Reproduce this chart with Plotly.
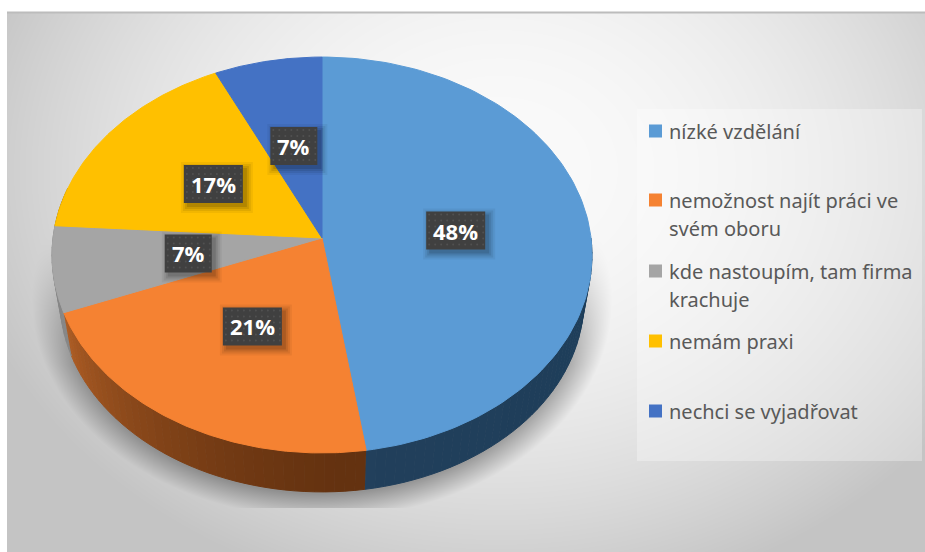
import numpy as np
import plotly.graph_objects as go

# values (shares in %), clockwise from 12 o'clock
categories = ["nízké vzdělání", "nemožnost najít práci ve svém oboru",
              "kde nastoupím, tam firma krachuje", "nemám praxi", "nechci se vyjadřovat"]
values = [47.6, 21.4, 7.0, 17.0, 7.0]
legend_lines = [["nízké vzdělání"], ["nemožnost najít práci ve", "svém oboru"],
                ["kde nastoupím, tam firma", "krachuje"], ["nemám praxi"], ["nechci se vyjadřovat"]]

top_colors = ["#5B9BD5", "#F58232", "#A5A5A5", "#FFC000", "#4472C4"]
# side colour at the start and end of each slice
side_colors = [((30, 62, 90), (34, 64, 92)), ((100, 50, 16), (172, 92, 36)),
               ((135, 135, 135), (135, 135, 135)), ((150, 110, 0), (150, 110, 0)), ((40, 70, 120), (40, 70, 120))]

W, H = 925, 552
CX, CY = 322, 238
A, B, K = 269, 196.5, 0.0859  # perspective of the tilted pie


def project(theta, r=1.0):
    u, v = r * np.sin(theta), r * np.cos(theta)
    d = 1 + K * v
    return CX + A * u / d, CY - B * v / d


def project_bottom(theta):
    x, y = project(theta)
    return CX + 0.97 * (x - CX), CY + 0.97 * (y - CY) + 45.4


# background: radial gradient, pie shadow and legend panel
px = np.arange(7, W) + 0.5
py = np.arange(12, H) + 0.5
gx, gy = np.meshgrid(px, py)
t = np.sqrt(((gx - 500) / 500) ** 2 + ((gy - 170) / 400) ** 2)
bg = 250 - 45 * np.clip(t, 0, 1.1) ** 2
dist = (np.sqrt(((gx - 322) / 258) ** 2 + ((gy - 300) / 194) ** 2) - 1) * 240
fade = np.clip((gy - 235) / 130, 0, 1)
shade = 0.32 * np.clip(1 - dist / 30, 0, 1) * fade
shade[gy > 508] = 0
bg = bg * (1 - shade)
panel = (gx > 637) & (gx < 922) & (gy > 109) & (gy < 461)
bg[panel] = bg[panel] + 0.3 * (255 - bg[panel])

fig = go.Figure()
fig.add_trace(go.Heatmap(x=px, y=py, z=bg.astype(np.float32), zmin=0, zmax=255, showscale=False, hoverinfo="skip",
                         colorscale=[[0, "#000000"], [1, "#ffffff"]]))


def poly(xs, ys, color, line=False):
    fig.add_trace(go.Scatter(x=xs, y=ys, mode="lines", fill="toself", fillcolor=color, hoverinfo="skip",
                             line=dict(color=color, width=1 if line else 0), showlegend=False))


edges = 2 * np.pi * np.cumsum([0] + values) / sum(values)

# side wall, cut in short pieces so that it can shade along the rim
for i in range(len(values)):
    start, end = max(edges[i], np.pi / 2), min(edges[i + 1], np.radians(285))
    if end <= start:
        continue
    n = max(int(np.degrees(end - start) / 2), 1)
    steps = np.linspace(start, end, n + 1)
    for j in range(n):
        th = np.linspace(steps[j], steps[j + 1], 4)
        f = (j / max(n - 1, 1)) ** 1.5
        c0, c1 = side_colors[i]
        rgb = tuple(int(c0[k] + (c1[k] - c0[k]) * f) for k in range(3))
        tx, ty = project(th)
        bx, by = project_bottom(th)
        poly(np.r_[tx, bx[::-1]], np.r_[ty, by[::-1]], "rgb(%d,%d,%d)" % rgb, line=True)

# top face
for i in range(len(values)):
    th = np.linspace(edges[i], edges[i + 1], 120)
    x, y = project(th)
    poly(np.r_[CX, x, CX], np.r_[CY, y, CY], top_colors[i], line=True)

# data labels
annotations = []
for i, v in enumerate(values):
    mid = (edges[i] + edges[i + 1]) / 2
    lx, ly = project(mid, 0.5)
    text = "%d%%" % round(v)
    hw, hh = (29.5 if len(text) > 2 else 23.5), 19
    for grow, alpha in [(6, 0.05), (4, 0.07), (2, 0.09), (0, 0.12)]:
        sx0, sx1 = lx - hw + 3 - grow, lx + hw + 4 + grow
        sy0, sy1 = ly - hh + 3 - grow, ly + hh + 4 + grow
        poly([sx0, sx1, sx1, sx0, sx0], [sy0, sy0, sy1, sy1, sy0], "rgba(0,0,0,%g)" % alpha)
    poly([lx - hw, lx + hw, lx + hw, lx - hw, lx - hw], [ly - hh, ly - hh, ly + hh, ly + hh, ly - hh], "#404040")
    dx, dy = np.meshgrid(np.arange(lx - hw + 3, lx + hw, 6), np.arange(ly - hh + 3, ly + hh, 6))
    fig.add_trace(go.Scatter(x=dx.ravel(), y=dy.ravel(), mode="markers", hoverinfo="skip", showlegend=False,
                             marker=dict(size=2, color="rgba(255,255,255,0.09)")))
    annotations.append(dict(x=lx, y=ly, text="<b>%s</b>" % text, showarrow=False,
                            font=dict(family="Open Sans", size=22, color="#ffffff")))

# legend
legend_y = [131, 200, 271, 341, 411]
for name, color, lines, y in zip(categories, top_colors, legend_lines, legend_y):
    fig.add_trace(go.Scatter(x=[655.5], y=[y], mode="markers", name=name, showlegend=False, hoverinfo="skip",
                             marker=dict(symbol="square", size=13, color=color)))
    for k, line in enumerate(lines):
        annotations.append(dict(x=667, y=y + k * 28, text=line, showarrow=False, xanchor="left",
                                font=dict(family="Noto Sans", size=20, color="#595959")))

fig.update_layout(
    width=W, height=H, margin=dict(l=0, r=0, t=0, b=0),
    paper_bgcolor="#ffffff", plot_bgcolor="#ffffff", showlegend=False, annotations=annotations,
    xaxis=dict(range=[0, W], visible=False, fixedrange=True),
    yaxis=dict(range=[H, 0], visible=False, fixedrange=True),
    shapes=[dict(type="line", x0=7, x1=W, y0=12.5, y1=12.5, line=dict(color="#bcbcbc", width=2))],
)

fig.write_html("out.html", config=dict(displayModeBar=False),
               post_script="document.body.style.margin='0';")
